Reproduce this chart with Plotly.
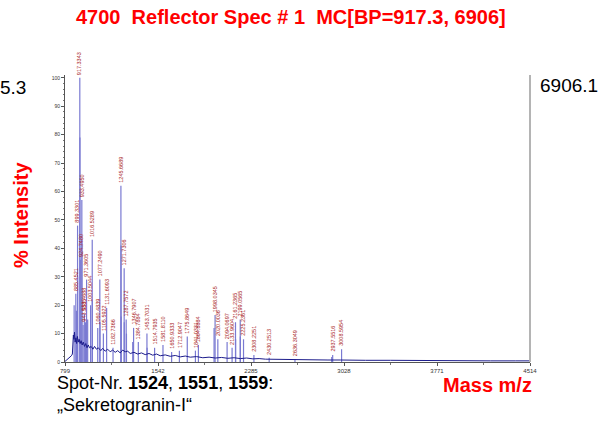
import plotly.graph_objects as go

# labelled peaks (m/z, % intensity)
label_mz = [885.4521, 899.3301, 917.3343, 924.7480, 933.4950, 943.5385, 953.4688,
            971.3605, 1003.5044, 1016.5289, 1060.4839, 1077.2490, 1105.5922, 1131.6093,
            1182.7366, 1245.6689, 1271.7306, 1287.7572, 1346.7907, 1384.7884, 1453.7031,
            1514.7935, 1581.8110, 1650.9333, 1712.9047, 1775.8649, 1841.0331, 1864.8884,
            1998.0345, 2020.0036, 2094.0697, 2133.9604, 2161.2365, 2199.0565, 2225.2361,
            2308.2251, 2430.2513, 2636.3049, 2937.5516, 3008.5954]
label_int = [24, 48, 100, 36, 57, 13, 17,
             29, 20, 43, 12, 29, 10, 19,
             5, 62, 33, 15, 12, 7, 10,
             5, 6, 3.5, 4, 9, 4, 6,
             16.5, 8, 7, 5, 14, 15, 8,
             2.5, 1.5, 1, 2.5, 4.5]

# unlabelled isotope / minor peaks
minor_mz = [872, 890, 900.3, 918.3, 934.5, 962, 980, 1017.5, 1078.2, 1246.7, 1247.7,
            1272.7, 1290, 1340, 1455, 1990, 2162, 2200, 2930]
minor_int = [20, 18, 30, 79, 43, 14, 15, 22, 14, 41, 16,
             14, 10, 7, 5, 12, 8, 9, 1.8]

# noise baseline
base_mz = [799, 810, 820, 830, 840, 850, 858, 862, 866, 870, 875, 880, 886, 892, 898,
           905, 912, 920, 928, 936, 945, 955, 965, 975, 985, 995, 1008, 1022, 1035,
           1050, 1065, 1085, 1100, 1120, 1140, 1160, 1180, 1200, 1220, 1240, 1260,
           1280, 1300, 1320, 1350, 1380, 1410, 1440, 1470, 1500, 1530, 1560, 1600,
           1640, 1680, 1720, 1760, 1800, 1850, 1900, 1950, 2000, 2050, 2100, 2150,
           2200, 2250, 2300, 2350, 2400, 2500, 2600, 2700, 2800, 2900, 3000, 3100,
           3200, 3400, 3600, 3800, 4000, 4200, 4400, 4514]
base_int = [0.2, 0.6, 0.9, 1.3, 1.7, 2.2, 2.8, 7.5, 9.5, 8.0, 10.5, 7.0, 8.5, 6.5, 9.0,
            7.0, 8.0, 6.5, 7.5, 6.0, 7.0, 5.5, 6.5, 5.0, 6.0, 5.0, 5.5, 4.5, 5.5,
            4.5, 5.0, 4.0, 4.8, 3.8, 4.5, 3.6, 4.2, 3.4, 4.0, 3.2, 4.2,
            3.6, 3.8, 3.0, 3.4, 2.8, 3.2, 2.6, 3.0, 2.4, 2.8, 2.2, 2.5,
            2.0, 2.3, 1.8, 2.1, 1.7, 1.9, 1.5, 1.7, 1.4, 1.6, 1.3, 1.5,
            1.2, 1.4, 1.1, 1.2, 1.0, 0.9, 0.9, 0.8, 0.8, 0.7, 0.7, 0.6,
            0.6, 0.6, 0.5, 0.5, 0.5, 0.4, 0.4, 0.4]

x_ticks = [799, 1542, 2285, 3028, 3771, 4514]
y_ticks = list(range(0, 101, 10))

# plot area in page pixels: x 65..530, y 75..362
L, R, T, B = 65, 530, 75, 362


def px(x):
    return (x - L) / (R - L)


def py(y):
    return (B - y) / (B - T)


def sticks(mz, inten):
    xs, ys = [], []
    for m, h in zip(mz, inten):
        xs += [m, m, None]
        ys += [0, h, None]
    return xs, ys


fig = go.Figure()

sx, sy = sticks(label_mz + minor_mz, label_int + minor_int)
fig.add_trace(go.Scatter(x=sx, y=sy, mode="lines",
                         line=dict(color="#7a7ad2", width=1.2), hoverinfo="skip"))
fig.add_trace(go.Scatter(x=base_mz, y=base_int, mode="lines",
                         line=dict(color="#1c1c8c", width=1), hoverinfo="skip"))

for m, h in zip(label_mz, label_int):
    fig.add_annotation(x=m, y=h, text=f"{m:.4f}", textangle=-90, showarrow=False,
                       xanchor="center", yanchor="bottom", yshift=1,
                       font=dict(family="Arial", size=5.5, color="#a81c1c"))

red = "#ff0000"
texts = [
    (291, 17, "<b>4700  Reflector Spec # 1  MC[BP=917.3, 6906]</b>", 20, red, "center", 0),
    (538, 85, "6906.1", 19, "black", "left", 0),
    (-2, 87, "5.3", 19, "black", "left", 0),
    (55, 383, "Spot-Nr. <b>1524</b>, <b>1551</b>, <b>1559</b>:", 18, "black", "left", 0),
    (55, 405, "„Sekretogranin-I“", 18, "black", "left", 0),
    (534, 385, "<b>Mass m/z</b>", 20, red, "right", 0),
    (21, 215, "<b>% Intensity</b>", 20, red, "center", -90),
]
for x, y, text, size, color, anchor, angle in texts:
    fig.add_annotation(xref="paper", yref="paper", x=px(x), y=py(y), text=text,
                       showarrow=False, xanchor=anchor, yanchor="middle", textangle=angle,
                       font=dict(family="Arial", size=size, color=color))

# right border line
fig.add_shape(type="line", xref="paper", yref="paper", x0=1, x1=1, y0=0, y1=1,
              line=dict(color="#b4b4b4", width=2))

fig.update_layout(
    width=598, height=421,
    margin=dict(l=L, r=598 - R, t=T, b=421 - B),
    paper_bgcolor="white", plot_bgcolor="white",
    showlegend=False,
    font=dict(family="Arial"),
)
fig.update_xaxes(range=[799, 4514], tickvals=x_ticks, showline=True, linecolor="#555",
                 linewidth=1, ticks="outside", ticklen=3, tickcolor="#555",
                 tickfont=dict(size=6, color="#333"), showgrid=False, zeroline=False,
                 minor=dict(tickvals=[1170.5, 1913.5, 2656.5, 3399.5, 4142.5],
                            ticks="outside", ticklen=2, tickcolor="#777"))
fig.update_yaxes(range=[0, 101], tickvals=y_ticks, showline=True, linecolor="#555",
                 linewidth=1, ticks="outside", ticklen=3, tickcolor="#555",
                 tickfont=dict(size=5, color="#333"), showgrid=False, zeroline=False,
                 minor=dict(dtick=2, ticks="outside", ticklen=1.5, tickcolor="#777"))

fig.write_html("out.html", config={"displayModeBar": False},
               post_script="document.body.style.margin = '0';")
